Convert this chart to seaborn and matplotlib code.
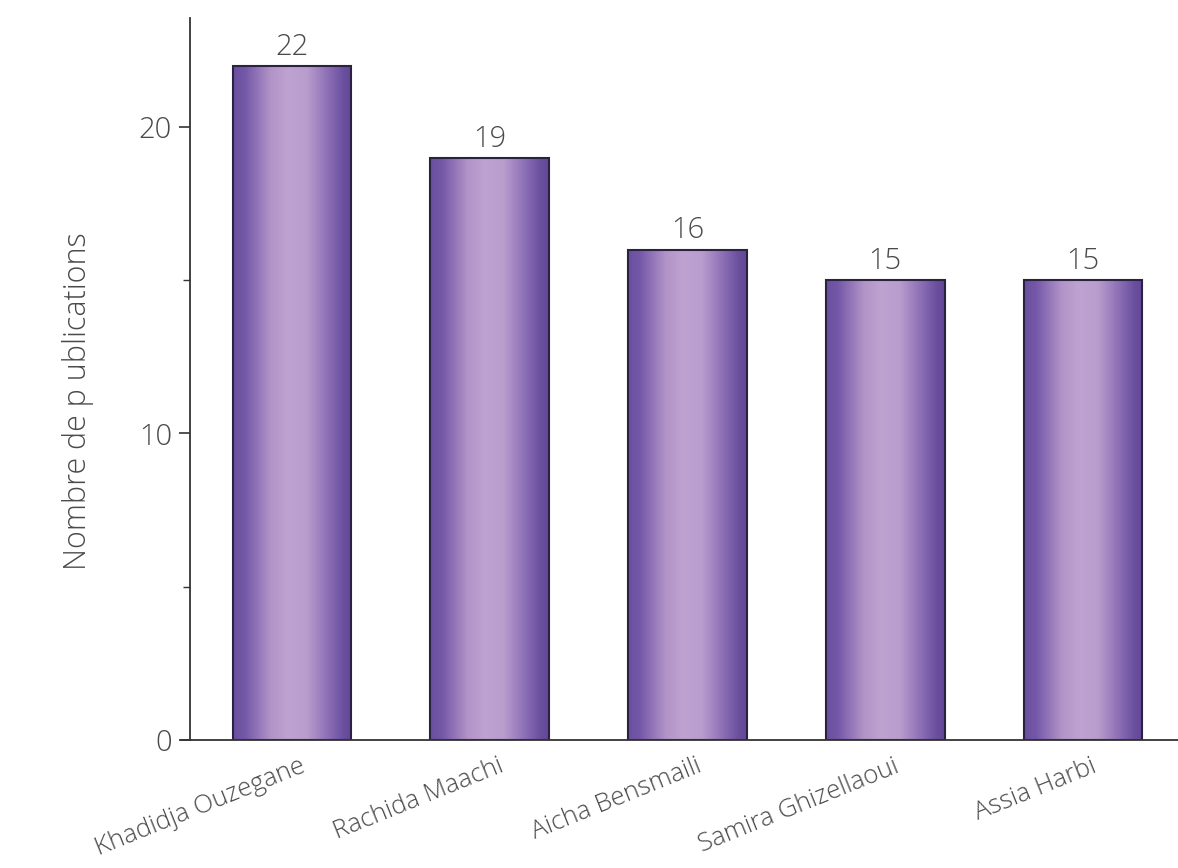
import numpy as np
import matplotlib
matplotlib.use("Agg")
import matplotlib.pyplot as plt
import matplotlib.transforms as mtransforms
from matplotlib.colors import LinearSegmentedColormap
from matplotlib.ticker import MultipleLocator
import seaborn as sns
import pandas as pd

authors = ["Khadidja Ouzegane", "Rachida Maachi", "Aicha Bensmaili",
           "Samira Ghizellaoui", "Assia Harbi"]
publications = [22, 19, 16, 15, 15]
y_label = "Nombre de p ublications"

sns.set_theme(style="white")
plt.rcParams['font.family'] = ['Open Sans', 'DejaVu Sans']

df = pd.DataFrame({"author": authors, "n": publications})

fig = plt.figure(figsize=(11.78, 8.68), dpi=100)
ax = fig.add_axes([0.1613, 0.1475, 0.8387, 0.8315])

sns.barplot(data=df, x="author", y="n", width=0.6, color="#7a5fae",
            edgecolor="#2b2140", linewidth=1.5, ax=ax, zorder=3)

# horizontal gradient inside each bar
grad_cmap = LinearSegmentedColormap.from_list(
    "barshade",
    [(0.0, "#6a4f9f"), (0.1, "#7458a8"), (0.32, "#b294c8"), (0.46, "#bea2d0"),
     (0.62, "#b99dcd"), (0.8, "#8c6fb5"), (0.93, "#6a4f9f"), (1.0, "#624897")])
grad = np.linspace(0, 1, 256).reshape(1, -1)
for p in ax.patches:
    x0, y0 = p.get_x(), p.get_y()
    w, h = p.get_width(), p.get_height()
    im = ax.imshow(grad, cmap=grad_cmap, aspect="auto",
                   extent=[x0, x0 + w, y0, y0 + h], zorder=2.5,
                   interpolation="bicubic")
    im.set_clip_path(p)
    p.set_facecolor("none")

ax.set_xlim(-0.515, 4.48)
ax.set_ylim(0, 23.55)

text_color = "#4a4a4a"
for c in ax.containers:
    ax.bar_label(c, fmt="%d", padding=3, fontsize=21, color=text_color,
                 fontweight="light")

ax.yaxis.set_major_locator(MultipleLocator(10))
ax.yaxis.set_minor_locator(MultipleLocator(5))
ax.tick_params(axis="y", which="major", direction="out", length=8, width=1.2,
               color="#333333", labelsize=21, labelcolor=text_color, left=True, pad=5)
ax.tick_params(axis="y", which="minor", direction="out", length=5, width=1.0,
               color="#333333", left=True)
ax.tick_params(axis="x", length=0, labelsize=18.5, labelcolor=text_color, pad=10)

for lab in ax.get_yticklabels():
    lab.set_fontweight("light")

offset = mtransforms.ScaledTranslation(8 / 100, 0, fig.dpi_scale_trans)
for lab in ax.get_xticklabels():
    lab.set_rotation(22)
    lab.set_ha("right")
    lab.set_va("top")
    lab.set_rotation_mode("anchor")
    lab.set_fontweight("light")
    lab.set_transform(lab.get_transform() + offset)

ax.set_xlabel("")
ax.set_ylabel(y_label, fontsize=22, color=text_color, fontweight="light")
ax.yaxis.set_label_coords(-0.097, 0.47)

for side in ["top", "right"]:
    ax.spines[side].set_visible(False)
for side in ["left", "bottom"]:
    ax.spines[side].set_color("#333333")
    ax.spines[side].set_linewidth(1.3)
ax.spines["bottom"].set_bounds(-0.56, 4.48)
ax.spines["bottom"].set_zorder(4)

fig.savefig("out.png", dpi=100, facecolor="white")
